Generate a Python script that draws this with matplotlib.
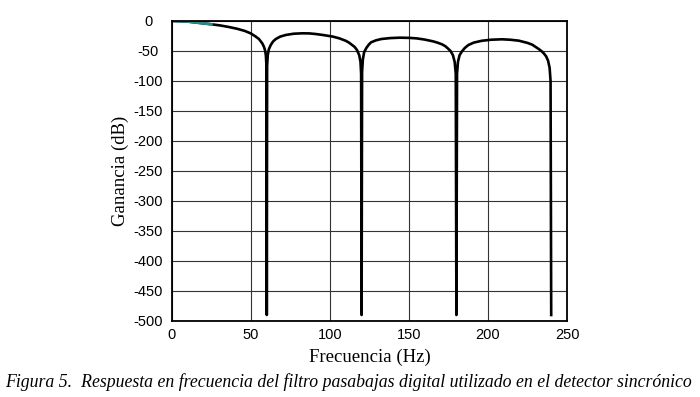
import matplotlib
matplotlib.use("Agg")
import matplotlib.pyplot as plt
import numpy as np

plt.rcParams['axes.unicode_minus'] = False

# frequency response (Hz, dB)
freq = [0, 5, 10, 15, 20, 25, 30.7, 36, 41.3, 46, 49.8, 53, 55, 56.2, 57.3, 58.2, 58.9, 59.4, 59.8,
        60.0,
        60.2, 60.6, 61.3, 62.5, 64, 65.7, 68.5, 72, 77, 82.6, 87, 91, 96, 101.8, 106, 110, 112, 113.5,
        115.5, 117, 118.5, 119.3, 119.7,
        120.0,
        120.3, 120.8, 121.6, 123, 124.5, 126, 129, 132.5, 138, 144, 150, 155, 160, 165.4, 168.5, 171,
        173, 174.5, 176.3, 177.8, 178.9, 179.6,
        180.0,
        180.4, 181, 182, 183.4, 185.3, 187.6, 191, 196, 202, 208.8, 214, 219.5, 225, 228, 230,
        232, 234, 235.5, 236.8, 238, 239, 239.6,
        240.0]
gain = [0, -0.3, -1, -2.5, -4, -5.5, -7.5, -10, -13, -16.5, -20.6, -26, -30, -34, -38, -43, -49, -57, -75,
        -490,
        -75, -57, -47, -40, -34, -30, -26, -23.3, -21.2, -20.5, -20.7, -21.7, -23.5, -26, -29, -33, -36, -39,
        -43, -48, -57, -68, -88,
        -490,
        -85, -64, -52, -45, -39.5, -35.5, -32.3, -30, -28.5, -27.8, -28.1, -29, -31, -34, -36.5, -39,
        -42, -45.5, -50, -57, -68, -88,
        -490,
        -88, -68, -57, -51, -45, -40, -36, -33, -31.2, -30.5, -31.2, -32.8, -36.5, -39.5, -43,
        -46.5, -50.5, -54.5, -59, -66, -78, -100,
        -490]

xticks = [0, 50, 100, 150, 200, 250]
yticks = [0, -50, -100, -150, -200, -250, -300, -350, -400, -450, -500]

fig = plt.figure(figsize=(7, 3.97), dpi=100)
ax = fig.add_axes([172/700, 1-321/397, 395/700, 300/397])

ax.plot(freq, gain, color='black', lw=1.9, solid_joinstyle='round')
# the start of the trace shows in teal
n0 = 6
ax.plot(freq[:n0], gain[:n0], color='#2a8a8a', lw=1.9)

ax.set_xlim(0, 250)
ax.set_ylim(-500, 0)
ax.set_xticks(xticks)
ax.set_yticks(yticks)
ax.grid(True, color='#333333', lw=0.8)
for s in ax.spines.values():
    s.set_linewidth(1.3)
ax.tick_params(axis='both', length=0, labelsize=10.5)
ax.tick_params(axis='y', pad=17)
ax.tick_params(axis='x', pad=5)
for lab in ax.get_yticklabels():
    lab.set_ha('center')
    lab.set_fontfamily('Liberation Sans')
for lab in ax.get_xticklabels():
    lab.set_fontfamily('Liberation Sans')

ax.set_xlabel('Frecuencia (Hz)', family='Liberation Serif', fontsize=13.5, labelpad=5)
ax.set_ylabel('Ganancia (dB)', family='Liberation Serif', fontsize=13.5, labelpad=3)

fig.text(0.4985, 1-382/397, 'Figura 5.  Respuesta en frecuencia del filtro pasabajas digital utilizado en el detector sincrónico',
         ha='center', va='center', family='Liberation Serif', style='italic', fontsize=12.75)

fig.savefig('out.png', dpi=100)
